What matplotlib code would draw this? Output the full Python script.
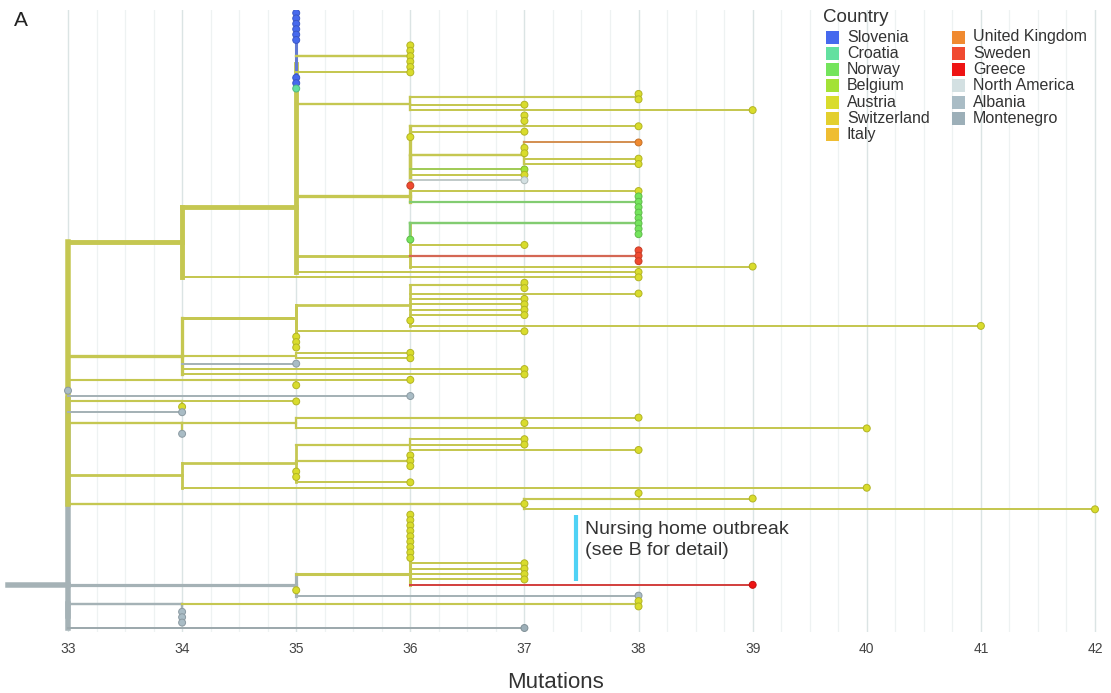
import re
import numpy as np
import matplotlib
matplotlib.use("Agg")
import matplotlib.pyplot as plt
from matplotlib.collections import LineCollection
from matplotlib.patches import Rectangle
from matplotlib.colors import to_rgb

plt.rcParams['font.family'] = ['Liberation Sans', 'DejaVu Sans']

countries = ["Slovenia", "Croatia", "Norway", "Belgium", "Austria", "Switzerland", "Italy",
             "United Kingdom", "Sweden", "Greece", "North America", "Albania", "Montenegro"]
codes = ["SI", "HR", "NO", "BE", "AT", "CH", "IT", "UK", "SE", "GR", "NA", "AL", "ME"]
colors = ["#4669ee", "#63e0a0", "#74e45c", "#a3e236", "#d9dc2c", "#e3cf2e", "#efbd32",
          "#f08a30", "#f04a30", "#ee1414", "#d3e0e2", "#a9bcc5", "#9cafb8"]
ticks = list(range(33, 43))

# tree pieces: "AT36" = sample from Austria at 36 mutations, "5*" repeats it,
# "(...)AT36" = ancestor at 36 mutations
slovenia = "(6*SI35,(5*AT36)AT36,AT36,2*SI35)SI35"
clade_36a = "((2*AT38)AT38,AT37,AT39)AT36"
clade_36b = ("(((2*AT37,AT38)AT37,AT37,AT36,(UK38,2*AT37,2*AT38)AT37,BE37,AT37,NA37)AT36,"
             "SE36,AT38,(3*NO38)NO38)AT36")
clade_36c = "(((5*NO38)NO38,NO36)NO36,AT37,(3*SE38)SE38,AT39)AT36"
clade_34a = "((" + ",".join([slovenia, "HR35", clade_36a, clade_36b, clade_36c, "AT38"]) + ")AT35,AT38)AT34"
clade_34b = "((((2*AT37)AT37,AT38,4*AT37,AT36,AT41)AT36,AT37,3*AT35)AT35,(2*AT36)AT35,AL35,2*AT37)AT34"
clade_35 = "(AT36,AT35)AT35"
clade_34c = "(AT35,AT34)AT34"
clade_34d = "(((AT38,AT37)AT37,AT40)AT35,AL34)AT34"
clade_34e = "(((AT37,AT37,AT38)AT36,(3*AT36)AT36,2*AT35,AT36)AT35,AT40)AT34"
clade_37 = "((AT38,AT39)AT38,AT37,AT42)AT37"
yellow_33 = "(" + ",".join([clade_34a, clade_34b, clade_35, "AL33", "AL36", clade_34c,
                            "AL34", clade_34d, clade_34e, clade_37]) + ")AT33"
outbreak = "(9*AT36,4*AT37,GR39)AT36"
grey_35 = "(" + outbreak + ",AT35,AL38)AL35"
grey_33 = "(((2*AT38)AT38,3*AL34)AL34,ME37)AL33"
tree_text = "((" + ",".join([yellow_33, grey_35, grey_33]) + ")AL33)AL32.47"


def parse(text):
    tokens = re.findall(r"\(|\)|,|[^(),]+", text)
    pos = 0

    def atom(tok):
        m = re.fullmatch(r"(?:(\d+)\*)?([A-Z]{2})([\d.]+)", tok)
        return int(m.group(1) or 1), m.group(2), float(m.group(3))

    def read():
        nonlocal pos
        tok = tokens[pos]
        if tok == "(":
            pos += 1
            kids = []
            while True:
                kids += read()
                tok = tokens[pos]
                pos += 1
                if tok == ")":
                    break
            _, code, x = atom(tokens[pos])
            pos += 1
            return [{"code": code, "x": x, "kids": kids}]
        pos += 1
        n, code, x = atom(tok)
        return [{"code": code, "x": x, "kids": []} for _ in range(n)]

    return read()[0]


def count(node):
    return 1 if not node["kids"] else sum(count(k) for k in node["kids"])


tips = []


def layout(node, parent_x):
    node["px"] = parent_x
    if not node["kids"]:
        node["y"] = len(tips)
        node["n"] = 1
        tips.append(node)
        return
    for k in node["kids"]:
        layout(k, node["x"])
    moved = [k["y"] for k in node["kids"] if k["x"] > node["x"]]
    node["y"] = np.mean(moved or [k["y"] for k in node["kids"]])
    node["n"] = sum(k["n"] for k in node["kids"])


root = parse(tree_text)
layout(root, root["x"])
col = dict(zip(codes, colors))


def branch_color(code):
    c = np.array(to_rgb(col[code]))
    return tuple(0.66 * c + 0.34 * np.array([0.62, 0.62, 0.60]))


segs, segc, segw = [], [], []


def collect(node, parent=None):
    w = min(5.5, 1.8 + 3.5 * (node["n"] / 60) ** 0.7) * 0.72
    if parent is not None and node["x"] == node["px"] and node["code"] == parent["code"]:
        w = max(w, parent["w"])
    node["w"] = w
    bc = branch_color(node["code"])
    if node["x"] > node["px"]:
        segs.append([(node["px"], node["y"]), (node["x"], node["y"])])
        segc.append(bc)
        segw.append(w)
    if node["kids"]:
        ys = [k["y"] for k in node["kids"]]
        segs.append([(node["x"], min(ys)), (node["x"], max(ys))])
        segc.append(bc)
        segw.append(w)
        for k in node["kids"]:
            collect(k, node)


collect(root)

fig = plt.figure(figsize=(11.11, 6.93), dpi=100)
ax = fig.add_axes([0, (693 - 632) / 693, 1, (632 - 10) / 693])
ppm = (1095 - 68) / 9
ax.set_xlim(33 - 68 / ppm, 33 + (1111 - 68) / ppm)
step = (628 - 13) / (len(tips) - 1)
ax.set_ylim((632 - 13) / step, (10 - 13) / step)

ax.set_xticks(ticks)
ax.set_xticks([t for t in np.arange(33, 42.01, 0.25) if t % 1], minor=True)
ax.grid(which='major', axis='x', color='#dbe4e4', lw=1.0)
ax.grid(which='minor', axis='x', color='#eef2f2', lw=0.9)
ax.set_axisbelow(True)
ax.set_yticks([])
for s in ax.spines.values():
    s.set_visible(False)
ax.tick_params(axis='x', which='both', length=0, pad=7, labelsize=10, labelcolor='#444444')
ax.set_xlabel("Mutations", fontsize=16, color='#333333', labelpad=12)

lc = LineCollection(segs, colors=segc, linewidths=segw, capstyle='projecting', zorder=2)
ax.add_collection(lc)

tx = [t["x"] for t in tips]
ty = [t["y"] for t in tips]
tc = [col[t["code"]] for t in tips]
te = [tuple(0.82 * np.array(to_rgb(c))) for c in tc]
ax.scatter(tx, ty, s=25, c=tc, edgecolors=te, linewidths=0.7, zorder=3)

# nursing home outbreak marker, spanning the outbreak clade's samples
n_tail = count(parse(grey_35)) + count(parse(grey_33))
first_out = len(tips) - n_tail
y0 = tips[first_out]["y"]
y1 = tips[first_out + count(parse(outbreak)) - 1]["y"]
ax.plot([37.45, 37.45], [y0, y1 - 0.7], color='#4fd2f5', lw=3, solid_capstyle='butt', zorder=3)
ax.text(37.53, y0 + 2.8, "Nursing home outbreak", fontsize=14, color='#333333', va='center')
ax.text(37.53, y0 + 6.7, "(see B for detail)", fontsize=14, color='#333333', va='center')

# legend
fig.text(823 / 1111, 1 - 17 / 693, "Country", fontsize=13.5, color='#333333', va='center')
for i, (name, c) in enumerate(zip(countries, colors)):
    colx = 826 if i < 7 else 952
    row = i if i < 7 else i - 7
    yc = 37 + 16.3 * row
    fig.patches.append(Rectangle((colx / 1111, 1 - (yc + 6.5) / 693), 13 / 1111, 13 / 693,
                                 transform=fig.transFigure, facecolor=c, edgecolor='none'))
    fig.text((colx + 21) / 1111, 1 - yc / 693, name, fontsize=11.5, color='#333333', va='center')

fig.text(14 / 1111, 1 - 20 / 693, "A", fontsize=15, color='#222222', va='center')

fig.savefig("out.png", dpi=100)
